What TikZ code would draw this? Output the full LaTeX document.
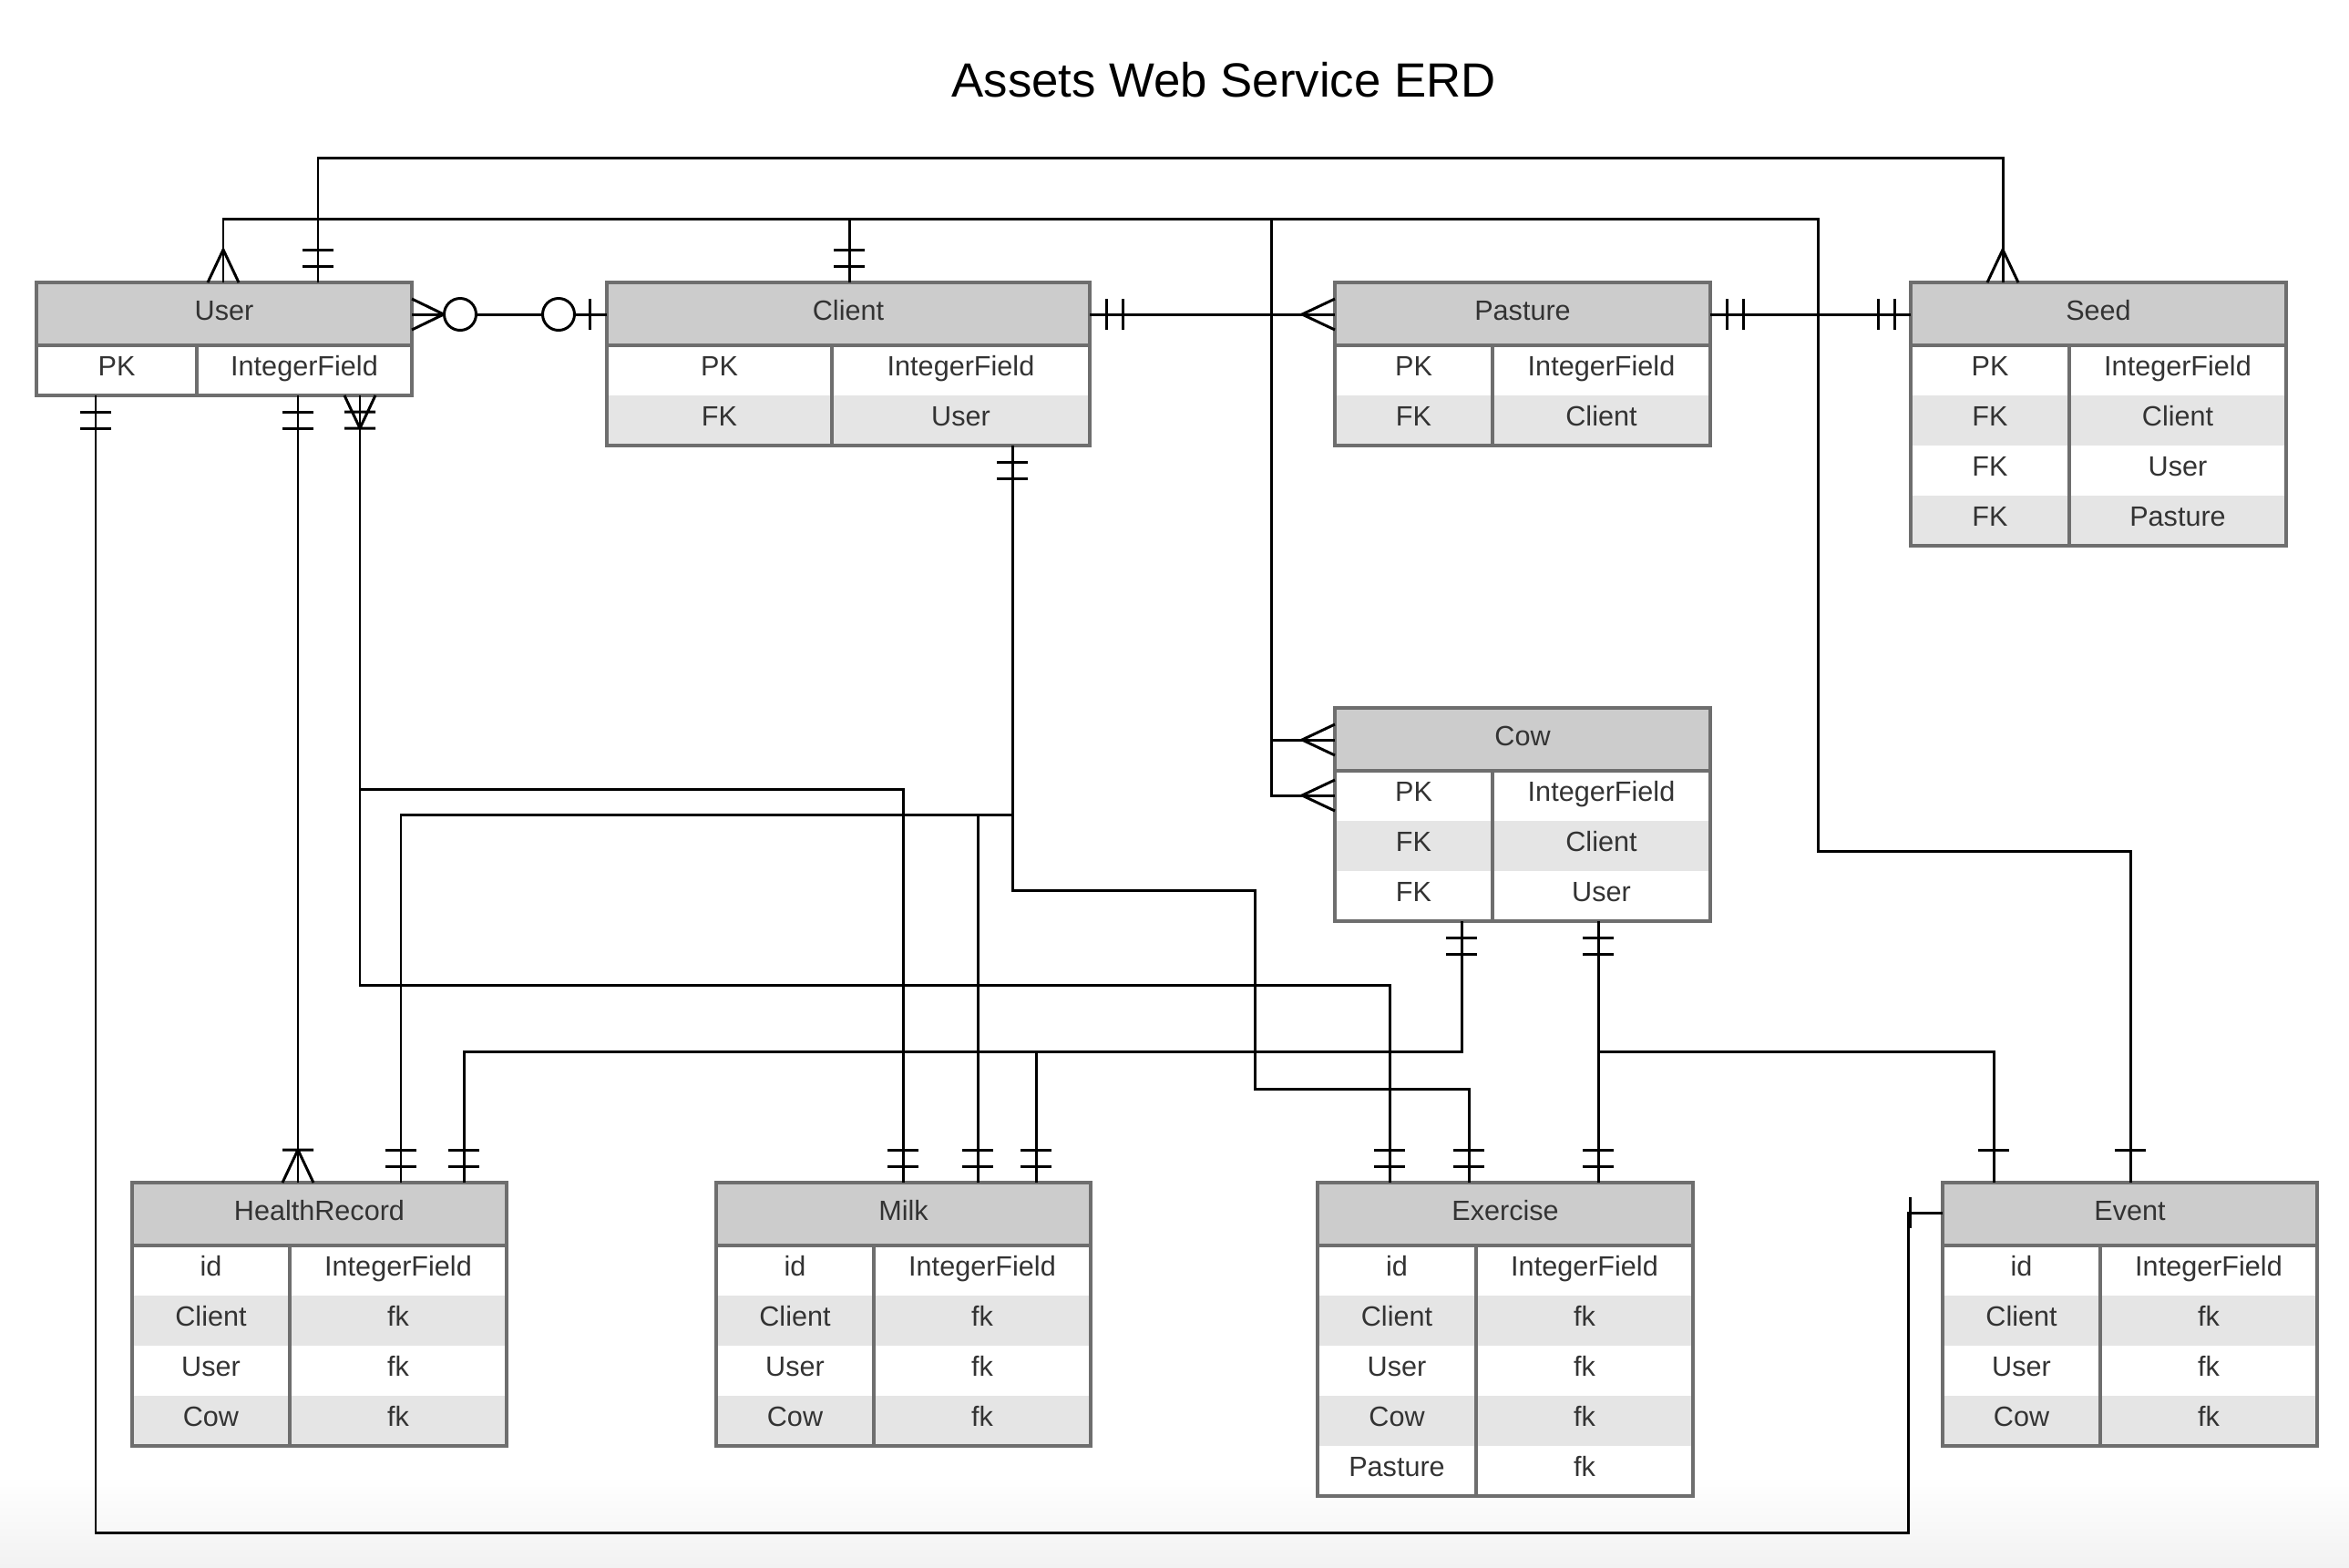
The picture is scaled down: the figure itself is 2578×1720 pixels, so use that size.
\documentclass[tikz,border=0pt]{standalone}
\usepackage{fontspec}
\setmainfont{Liberation Sans}
\usetikzlibrary{fit}
\definecolor{headgray}{HTML}{CCCCCC}
\definecolor{rowgray}{HTML}{E5E5E5}
\definecolor{bordergray}{HTML}{6E6E6E}
\definecolor{txtgray}{HTML}{333333}
\definecolor{bottomgray}{HTML}{F2F2F2}
\tikzset{
  conn/.style={line width=0.85pt, draw=black},
  tabline/.style={line width=0.9pt, draw=bordergray},
  cell/.style={inner sep=0pt, anchor=base, text=txtgray, font=\fontsize{8.7}{10}\selectfont},
  titletext/.style={inner sep=0pt, text=black, font=\fontsize{15}{18}\selectfont},
  pics/erdmandone/.style={code={\draw[conn] (18,-17)--(18,17) (36,-17)--(36,17);}},
  pics/erdone/.style={code={\draw[conn] (36,-17)--(36,17);}},
  pics/erdmany/.style={code={\draw[conn] (0,-17)--(36,0)--(0,17);}},
  pics/erdonemany/.style={code={\draw[conn] (0,-17)--(36,0)--(0,17) (36,-17)--(36,17);}},
  pics/erdmanytwo/.style={code={\draw[conn] (0,-17)--(36,0)--(0,17) (18,-17)--(18,17) (36,-17)--(36,17);}},
  pics/erdzeromany/.style={code={\draw[conn] (0,-17)--(35,0)--(0,17); \draw[conn, fill=white] (53,0) circle [radius=17.5];}},
  pics/erdzeroone/.style={code={\draw[conn] (19,-17)--(19,17); \draw[conn, fill=white] (53,0) circle [radius=17.5];}},
}
\newcommand{\erdtab}[7]{%
 \begin{scope}[shift={(#2,#3)}]
  \fill[headgray] (0,0) rectangle (#4,69);
  \foreach [count=\i] \a/\b in {#7} {%
    \pgfmathsetmacro{\rt}{69+55*(\i-1)}%
    \ifodd\i \fill[white] (0,\rt) rectangle (#4,\rt+55);%
    \else \fill[rowgray] (0,\rt) rectangle (#4,\rt+55);\fi
    \node[cell] at ({#5/2},\rt+33) {\a};
    \node[cell] at ({(#4+#5)/2},\rt+33) {\b};
    \xdef\erdnrows{\i}%
  }
  \pgfmathsetmacro{\erdth}{69+55*\erdnrows}
  \node[cell] at ({#4/2},41) {#6};
  \draw[tabline] (0,69) -- (#4,69) (#5,69) -- (#5,\erdth);
  \path (0,0) coordinate (#1-nw) (#4,\erdth) coordinate (#1-se);
  \node[fit=(#1-nw)(#1-se), inner sep=0pt, outer sep=0pt, draw=bordergray, line width=0.9pt] (#1) {};
 \end{scope}}

\begin{document}
\begin{tikzpicture}[x=0.01cm, y=-0.01cm]
\useasboundingbox (0,0) rectangle (2578,1720);
\fill[white] (0,0) rectangle (2578,1720);
\shade[top color=white, bottom color=bottomgray] (0,1620) rectangle (2578,1720);

\node[titletext] (title) at (1343,88) {Assets Web Service ERD};

\erdtab{user}{40}{310}{412}{176}{User}{PK/IntegerField}
\erdtab{client}{666}{310}{530}{247}{Client}{PK/IntegerField, FK/User}
\erdtab{pasture}{1465}{310}{412}{173}{Pasture}{PK/IntegerField, FK/Client}
\erdtab{seed}{2097}{310}{412}{174}{Seed}{PK/IntegerField, FK/Client, FK/User, FK/Pasture}
\erdtab{cow}{1465}{777}{412}{173}{Cow}{PK/IntegerField, FK/Client, FK/User}
\erdtab{hr}{145}{1298}{411}{173}{HealthRecord}{id/IntegerField, Client/fk, User/fk, Cow/fk}
\erdtab{milk}{786}{1298}{411}{173}{Milk}{id/IntegerField, Client/fk, User/fk, Cow/fk}
\erdtab{exercise}{1446}{1298}{412}{174}{Exercise}{id/IntegerField, Client/fk, User/fk, Cow/fk, Pasture/fk}
\erdtab{event}{2132}{1298}{411}{173}{Event}{id/IntegerField, Client/fk, User/fk, Cow/fk}

% connectors
\draw[conn] (user.north -| 349,0) -- (349,173) -- (2198,173) -- (seed.north -| 2198,0);
\draw[conn] (user.north -| 245,0) -- (245,240) -- (1995,240) -- (1995,934) -- (2338,934) -- (event.north -| 2338,0);
\draw[conn] (client.north -| 932,0) -- (932,240);
\draw[conn] (1395,240) -- (1395,873) -- (cow.west |- 0,873);
\draw[conn] (1395,812) -- (cow.west |- 0,812);
\draw[conn] (user.east |- 0,345) -- (client.west |- 0,345);
\draw[conn] (client.east |- 0,345) -- (pasture.west |- 0,345);
\draw[conn] (pasture.east |- 0,345) -- (seed.west |- 0,345);
\draw[conn] (user.south -| 105,0) -- (105,1682) -- (2094,1682) -- (2094,1331) -- (event.west |- 0,1331);
\draw[conn] (user.south -| 327,0) -- (hr.north -| 327,0);
\draw[conn] (user.south -| 395,0) -- (395,1081) -- (1525,1081) -- (exercise.north -| 1525,0);
\draw[conn] (395,866) -- (991,866) -- (milk.north -| 991,0);
\draw[conn] (client.south -| 1111,0) -- (1111,977) -- (1377,977) -- (1377,1195) -- (1612,1195) -- (exercise.north -| 1612,0);
\draw[conn] (1111,894) -- (440,894) -- (hr.north -| 440,0);
\draw[conn] (1073,894) -- (milk.north -| 1073,0);
\draw[conn] (cow.south -| 1604,0) -- (1604,1154) -- (509,1154) -- (hr.north -| 509,0);
\draw[conn] (1137,1154) -- (milk.north -| 1137,0);
\draw[conn] (cow.south -| 1754,0) -- (exercise.north -| 1754,0);
\draw[conn] (1754,1154) -- (2188,1154) -- (event.north -| 2188,0);

% cardinality marks
\pic[rotate=90] at (user.north -| 349,0) {erdmandone};
\pic[rotate=90] at (seed.north -| 2198,0) {erdmany};
\pic[rotate=90] at (user.north -| 245,0) {erdmany};
\pic[rotate=90] at (event.north -| 2338,0) {erdone};
\pic[rotate=90] at (client.north -| 932,0) {erdmandone};
\pic[rotate=180] at (cow.west |- 0,812) {erdmany};
\pic[rotate=180] at (cow.west |- 0,873) {erdmany};
\pic at (user.east |- 0,345) {erdzeromany};
\pic[rotate=180] at (client.west |- 0,345) {erdzeroone};
\pic at (client.east |- 0,345) {erdmandone};
\pic[rotate=180] at (pasture.west |- 0,345) {erdmany};
\pic at (pasture.east |- 0,345) {erdmandone};
\pic[rotate=180] at (seed.west |- 0,345) {erdmandone};
\pic[rotate=-90] at (user.south -| 105,0) {erdmandone};
\pic[rotate=180] at (event.west |- 0,1331) {erdone};
\pic[rotate=-90] at (user.south -| 327,0) {erdmandone};
\pic[rotate=90] at (hr.north -| 327,0) {erdonemany};
\pic[rotate=-90] at (user.south -| 395,0) {erdmanytwo};
\pic[rotate=90] at (exercise.north -| 1525,0) {erdmandone};
\pic[rotate=90] at (milk.north -| 991,0) {erdmandone};
\pic[rotate=-90] at (client.south -| 1111,0) {erdmandone};
\pic[rotate=90] at (hr.north -| 440,0) {erdmandone};
\pic[rotate=90] at (milk.north -| 1073,0) {erdmandone};
\pic[rotate=90] at (exercise.north -| 1612,0) {erdmandone};
\pic[rotate=-90] at (cow.south -| 1604,0) {erdmandone};
\pic[rotate=90] at (hr.north -| 509,0) {erdmandone};
\pic[rotate=90] at (milk.north -| 1137,0) {erdmandone};
\pic[rotate=-90] at (cow.south -| 1754,0) {erdmandone};
\pic[rotate=90] at (exercise.north -| 1754,0) {erdmandone};
\pic[rotate=90] at (event.north -| 2188,0) {erdone};
\end{tikzpicture}
\end{document}
